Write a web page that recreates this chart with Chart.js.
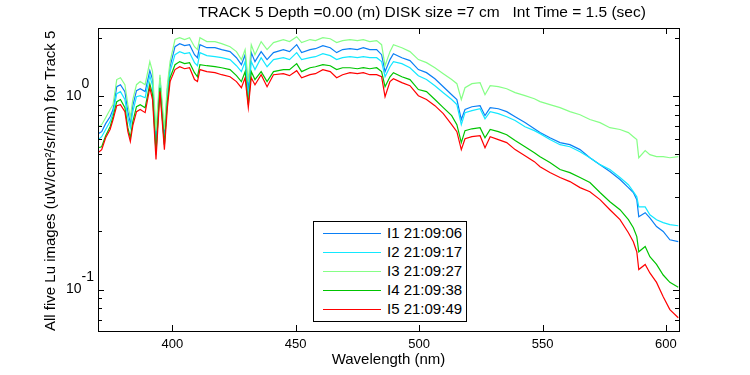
<!DOCTYPE html>
<html>
<head>
<meta charset="utf-8">
<title>Lu spectra - Track 5</title>
<script src="https://cdn.jsdelivr.net/npm/chart.js@4.4.1/dist/chart.umd.min.js"></script>
<style>
  html, body { margin: 0; padding: 0; background: #fff; }
  #wrap { position: relative; width: 750px; height: 375px; }
  #legend {
    position: absolute; left: 313px; top: 221px; width: 152px; height: 99px;
    border: 1px solid #000; background: #fff;
    font: 15px "Liberation Sans", Arial, sans-serif; color: #000;
  }
  .lg-line { position: absolute; left: 9px; width: 58px; height: 1px; }
  .lg-text { position: absolute; left: 73px; line-height: 18px; white-space: nowrap; }
</style>
</head>
<body>
<div id="wrap">
  <canvas id="lu-chart" width="750" height="375"></canvas>
  <div id="legend"></div>
</div>
<script>
/* ─── Data ───────────────────────────────────────────────────────────────── */
const wavelengths = [370, 371.4, 373, 374.8, 376, 377.5, 379, 380.8, 382, 383,
  384, 385.5, 387, 389, 390.9, 392, 393.4, 395, 396.8, 398,
  399.1, 401.1, 403, 405, 407, 409, 410.2, 411.2, 414, 417.3,
  420, 423.4, 426, 428, 429.5, 430.8, 432, 433.5, 436, 438.4,
  441, 445, 447.5, 450.4, 452.4, 455.8, 458, 461, 464, 466.6,
  469, 472, 475, 477.4, 480, 482.8, 484.8, 486.2, 488.2, 489.6,
  493, 496.3, 499.7, 503, 506.4, 509.8, 513.2, 515.3, 517.1, 518.6,
  521.4, 524.7, 526.7, 528.8, 532.1, 535.5, 538.9, 542.9, 546.7, 549,
  553, 557.1, 561.1, 565.2, 569.2, 573.3, 577.3, 581.4, 584.8, 586.8,
  588.2, 589, 591.6, 593.5, 596.2, 598.9, 601.6, 605];

const luI1 = [0.641, 0.656, 0.722, 0.784, 0.854, 1.121, 1.148, 1.057, 0.833, 0.731,
  0.894, 1.070, 1.094, 1.057, 1.357, 1.220, 0.555, 1.247, 0.597, 1.083,
  1.422, 1.805, 1.872, 1.827, 1.849, 1.641, 1.583, 1.849, 1.783, 1.783,
  1.744, 1.702, 1.583, 1.457, 1.641, 1.057, 1.682, 1.511, 1.702, 1.548,
  1.682, 1.744, 1.702, 1.849, 1.682, 1.744, 1.762, 1.827, 1.783, 1.682,
  1.744, 1.762, 1.744, 1.783, 1.744, 1.744, 1.641, 1.341, 1.548, 1.661,
  1.583, 1.529, 1.374, 1.325, 1.232, 1.121, 1.019, 0.962, 0.758, 0.854,
  0.883, 0.894, 0.794, 0.873, 0.862, 0.833, 0.784, 0.731, 0.679, 0.649,
  0.610, 0.576, 0.562, 0.530, 0.481, 0.443, 0.408, 0.371, 0.337, 0.318,
  0.292, 0.238, 0.250, 0.235, 0.212, 0.200, 0.181, 0.177];

const luI2 = [0.597, 0.618, 0.673, 0.740, 0.823, 1.032, 1.057, 0.962, 0.775, 0.688,
  0.833, 0.995, 1.007, 0.983, 1.278, 1.134, 0.499, 1.176, 0.562, 1.019,
  1.341, 1.641, 1.702, 1.661, 1.682, 1.493, 1.439, 1.682, 1.622, 1.602,
  1.583, 1.548, 1.439, 1.341, 1.511, 0.995, 1.511, 1.374, 1.583, 1.422,
  1.548, 1.583, 1.548, 1.682, 1.548, 1.583, 1.602, 1.661, 1.622, 1.548,
  1.583, 1.602, 1.583, 1.602, 1.583, 1.583, 1.511, 1.262, 1.422, 1.511,
  1.475, 1.405, 1.278, 1.220, 1.134, 1.044, 0.962, 0.905, 0.713, 0.823,
  0.843, 0.862, 0.765, 0.833, 0.813, 0.784, 0.749, 0.696, 0.664, 0.641,
  0.597, 0.562, 0.548, 0.517, 0.481, 0.443, 0.418, 0.380, 0.349, 0.321,
  0.302, 0.268, 0.268, 0.244, 0.230, 0.222, 0.217, 0.214];

const luI3 = [0.696, 0.713, 0.775, 0.854, 0.905, 1.220, 1.247, 1.148, 0.905, 0.775,
  0.962, 1.148, 1.191, 1.148, 1.511, 1.341, 0.664, 1.293, 0.673, 1.148,
  1.511, 1.965, 2.009, 1.965, 2.009, 1.805, 1.744, 2.009, 1.918, 1.918,
  1.872, 1.805, 1.702, 1.548, 1.744, 1.191, 1.849, 1.641, 1.918, 1.744,
  1.895, 1.965, 1.918, 2.033, 1.895, 1.965, 1.941, 2.009, 1.985, 1.895,
  1.941, 1.965, 1.941, 1.965, 1.918, 1.941, 1.849, 1.439, 1.702, 1.849,
  1.783, 1.702, 1.548, 1.493, 1.405, 1.309, 1.220, 1.162, 0.962, 1.107,
  1.162, 1.176, 1.019, 1.134, 1.121, 1.094, 1.044, 1.007, 0.971, 0.938,
  0.905, 0.873, 0.833, 0.803, 0.758, 0.731, 0.688, 0.673, 0.649, 0.618,
  0.597, 0.481, 0.524, 0.499, 0.487, 0.487, 0.481, 0.487];

const luI4 = [0.542, 0.548, 0.625, 0.696, 0.784, 0.938, 0.962, 0.873, 0.688, 0.610,
  0.740, 0.883, 0.905, 0.873, 1.162, 1.019, 0.517, 1.107, 0.562, 0.938,
  1.247, 1.457, 1.511, 1.475, 1.493, 1.325, 1.262, 1.457, 1.439, 1.422,
  1.405, 1.374, 1.278, 1.191, 1.341, 0.905, 1.341, 1.220, 1.341, 1.191,
  1.341, 1.374, 1.374, 1.475, 1.341, 1.405, 1.422, 1.457, 1.439, 1.374,
  1.405, 1.405, 1.388, 1.405, 1.388, 1.405, 1.341, 1.121, 1.262, 1.325,
  1.262, 1.220, 1.083, 1.057, 0.962, 0.873, 0.794, 0.713, 0.576, 0.664,
  0.679, 0.688, 0.610, 0.673, 0.656, 0.633, 0.590, 0.548, 0.511, 0.487,
  0.454, 0.418, 0.403, 0.380, 0.358, 0.318, 0.285, 0.259, 0.230, 0.209,
  0.188, 0.157, 0.167, 0.148, 0.135, 0.119, 0.109, 0.103];

const luI5 = [0.511, 0.530, 0.610, 0.673, 0.758, 0.894, 0.905, 0.833, 0.656, 0.583,
  0.705, 0.833, 0.854, 0.823, 1.107, 0.962, 0.471, 1.057, 0.530, 0.873,
  1.191, 1.374, 1.422, 1.388, 1.405, 1.220, 1.191, 1.374, 1.341, 1.325,
  1.293, 1.262, 1.191, 1.107, 1.247, 0.873, 1.247, 1.148, 1.293, 1.121,
  1.293, 1.309, 1.278, 1.357, 1.247, 1.293, 1.309, 1.374, 1.341, 1.247,
  1.293, 1.325, 1.309, 1.325, 1.293, 1.293, 1.262, 0.995, 1.191, 1.232,
  1.176, 1.134, 1.007, 0.962, 0.894, 0.813, 0.713, 0.656, 0.530, 0.603,
  0.618, 0.625, 0.542, 0.618, 0.597, 0.576, 0.530, 0.493, 0.459, 0.432,
  0.403, 0.380, 0.362, 0.337, 0.321, 0.292, 0.259, 0.230, 0.197, 0.177,
  0.157, 0.127, 0.135, 0.122, 0.109, 0.0919, 0.0788, 0.0715];

const seriesLabels = ['I1 21:09:06', 'I2 21:09:17', 'I3 21:09:27', 'I4 21:09:38', 'I5 21:09:49'];
const seriesColors = ['#0a7ff5', '#12e8ff', '#86ff86', '#00c400', '#ff0000'];

const xTicks      = [400, 450, 500, 550, 600];
const yMajorTicks = [0.1, 1];
const yTickBase   = ['10', '10'];
const yTickExp    = ['-1', '0'];
const yMinorTicks = [0.07, 0.08, 0.09, 0.2, 0.3, 0.4, 0.5, 0.6, 0.7, 0.8, 0.9, 2];

const chartTitle = 'TRACK 5 Depth =0.00 (m) DISK size =7 cm   Int Time = 1.5 (sec)';
const xTitle     = 'Wavelength (nm)';
const yTitle     = 'All five Lu images (uW/cm\u00b2/sr/nm) for Track 5';

/* ─── Helpers ────────────────────────────────────────────────────────────── */
const FONT = '"Liberation Sans", Arial, Helvetica, sans-serif';
Chart.defaults.font.family = FONT;
Chart.defaults.color = '#000';

const toPoints = values => values.map((v, i) => ({ x: wavelengths[i], y: v }));

/* ─── Legend (HTML box inside the plot, lower middle) ────────────────────── */
const legendEl = document.getElementById('legend');
seriesLabels.forEach((label, i) => {
  const rowY = 10.5 + i * 19.2;
  const line = document.createElement('div');
  line.className = 'lg-line';
  line.style.top = `${Math.round(rowY)}px`;
  line.style.background = seriesColors[i];
  const text = document.createElement('div');
  text.className = 'lg-text';
  text.style.top = `${rowY - 9}px`;
  text.textContent = label;
  legendEl.append(line, text);
});

/* ─── Plugin: MATLAB-style frame, inward ticks, 10^n labels, title ───────── */
const matlabFrame = {
  id: 'matlabFrame',
  afterDatasetsDraw(chart) {
    const { ctx, chartArea: a, scales: { x, y } } = chart;
    ctx.save();
    ctx.strokeStyle = '#000';
    ctx.lineWidth = 1;
    ctx.strokeRect(a.left + 0.5, a.top + 0.5, a.right - a.left, a.bottom - a.top);

    ctx.beginPath();
    xTicks.forEach(v => {
      const px = Math.round(x.getPixelForValue(v)) + 0.5;
      ctx.moveTo(px, a.bottom); ctx.lineTo(px, a.bottom - 6);
      ctx.moveTo(px, a.top);    ctx.lineTo(px, a.top + 6);
    });
    const yTick = (v, len) => {
      const py = Math.round(y.getPixelForValue(v)) + 0.5;
      ctx.moveTo(a.left, py);  ctx.lineTo(a.left + len, py);
      ctx.moveTo(a.right, py); ctx.lineTo(a.right - len, py);
    };
    yMajorTicks.forEach(v => yTick(v, 6));
    yMinorTicks.forEach(v => yTick(v, 4));
    ctx.stroke();

    ctx.fillStyle = '#000';
    ctx.font = `14px ${FONT}`;
    ctx.textBaseline = 'middle';
    yMajorTicks.forEach((v, i) => {
      const py = y.getPixelForValue(v);
      ctx.textAlign = 'right';
      ctx.fillText(yTickBase[i], 81.5, py);
      ctx.textAlign = 'left';
      ctx.fillText(yTickExp[i], 81.5, py - 12);
    });
    ctx.restore();
  },
  afterDraw(chart) {
    const { ctx } = chart;
    ctx.save();
    ctx.fillStyle = '#000';
    ctx.font = `15.5px ${FONT}`;
    ctx.textAlign = 'center';
    ctx.textBaseline = 'middle';
    ctx.fillText(chartTitle, 422, 12.5);
    ctx.restore();
  }
};

/* ─── Chart ──────────────────────────────────────────────────────────────── */
const seriesData = [luI1, luI2, luI3, luI4, luI5];

new Chart(document.getElementById('lu-chart'), {
  type: 'line',
  data: {
    datasets: seriesData.map((vals, i) => ({
      label:       seriesLabels[i],
      data:        toPoints(vals),
      borderColor: seriesColors[i],
      borderWidth: 1.2,
      pointRadius: 0,
      tension:     0,
      fill:        false,
      order:       5 - i
    }))
  },
  options: {
    responsive: false,
    animation: false,
    devicePixelRatio: 1,
    layout: { padding: { left: 0, right: 71, top: 28, bottom: 0 } },
    plugins: {
      legend:  { display: false },
      title:   { display: false },
      tooltip: { enabled: false }
    },
    scales: {
      x: {
        type: 'linear',
        min: 369.9,
        max: 605.3,
        afterBuildTicks: s => { s.ticks = xTicks.map(v => ({ value: v })); },
        afterFit: s => { s.height = 44; },
        grid:   { display: false, drawTicks: false },
        border: { display: false },
        ticks:  { font: { size: 13 }, padding: 6, maxRotation: 0 },
        title:  {
          display: true,
          text: xTitle,
          font: { size: 15 },
          padding: { top: 0, bottom: 6 }
        }
      },
      y: {
        type: 'logarithmic',
        min: 0.0611,
        max: 2.255,
        afterFit: s => { s.width = 98; },
        grid:   { display: false, drawTicks: false },
        border: { display: false },
        ticks:  { display: false },
        title:  {
          display: true,
          text: yTitle,
          align: 'start',
          font: { size: 15 },
          padding: { top: 42, bottom: 0 }
        }
      }
    }
  },
  plugins: [matlabFrame]
});
</script>
</body>
</html>
